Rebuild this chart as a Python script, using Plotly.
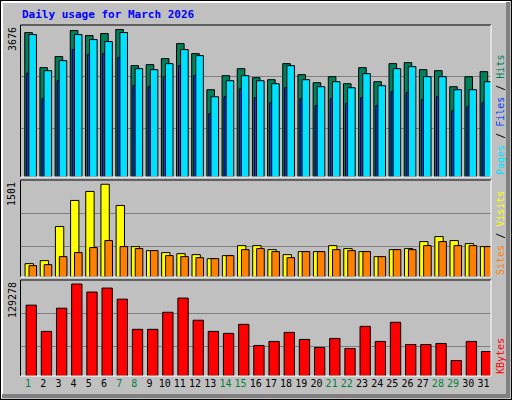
import plotly.graph_objects as go

days = list(range(1, 32))
weekend = [1, 7, 8, 14, 15, 21, 22, 28, 29]
hits = [3600,2725,3000,3650,3525,3575,3676,2775,2800,2950,3325,3075,2175,2525,2700,2475,2425,2825,2550,2350,2500,2325,2725,2375,2825,2850,2675,2650,2250,2500,2625]
files = [3550,2650,2900,3550,3425,3375,3600,2700,2675,2825,3175,3025,2000,2400,2525,2400,2325,2775,2425,2250,2375,2225,2575,2275,2700,2750,2500,2500,2175,2175,2375]
pages = [2590,1950,2400,3175,3050,3075,2975,2275,2250,2500,2775,2525,1575,2000,2200,1975,1850,2225,1950,1775,1950,1825,1975,1775,2125,2100,1925,2000,1650,1750,1850]
visits = [216,265,817,1239,1385,1501,1158,492,427,395,378,362,297,346,508,508,443,362,411,411,508,460,411,330,443,460,573,654,590,541,492]
sites = [184,200,330,395,476,590,492,460,427,346,330,313,297,346,443,460,411,313,411,411,443,427,411,330,443,443,508,573,508,508,492]
kbytes = [99600,62700,95300,129278,118000,123600,108000,65600,65600,89600,109500,78400,62700,59900,72600,42900,48600,61300,51400,40100,52800,38700,69800,48600,75500,44300,44300,45700,21700,48600,34400]

MONO = "DejaVu Sans Mono"
L, R = 20.5/512, 491/512
doms = [((400-177)/400, (400-25)/400), ((400-277)/400, (400-180)/400), ((400-376)/400, (400-280)/400)]
ranges = [3788, 1570, 134950]
grids = [[1212, 2500], [499, 1030], [41489, 88217]]

fig = go.Figure()
line = dict(color="black", width=1)
def bar(vals, color, off, w, k):
    fig.add_trace(go.Bar(x=days, y=vals, offset=off, width=w, marker=dict(color=color, line=line),
                         xaxis="x" if k == 1 else f"x{k}", yaxis="y" if k == 1 else f"y{k}", showlegend=False))
bar(hits, "#00805C", -0.22, 0.5, 1)
bar(pages, "#0040FF", -0.09, 0.18, 1)
bar(files, "#00E0FF", 0.05, 0.5, 1)
bar(visits, "#FFFF00", -0.2, 0.55, 2)
bar(sites, "#FF8000", 0.06, 0.5, 2)
bar(kbytes, "#FF0000", -0.13, 0.68, 3)

lay = dict(width=512, height=400, margin=dict(l=0, r=0, t=0, b=0), paper_bgcolor="#C0C0C0",
           plot_bgcolor="#C0C0C0", barmode="overlay", font=dict(family=MONO, size=10, color="black"))
for k in (1, 2, 3):
    xs = "xaxis" if k == 1 else f"xaxis{k}"
    ys = "yaxis" if k == 1 else f"yaxis{k}"
    lay[xs] = dict(domain=[L, R], range=[0.5, 31.5], showgrid=False, zeroline=False,
                   anchor="y" if k == 1 else f"y{k}", showticklabels=(k == 3), ticks="")
    lay[ys] = dict(domain=list(doms[k-1]), range=[0, ranges[k-1]], tickvals=grids[k-1], showticklabels=False,
                   gridcolor="#808080", gridwidth=1, zeroline=False, anchor="x" if k == 1 else f"x{k}")
lay["xaxis3"]["tickvals"] = days
lay["xaxis3"]["ticktext"] = [f"<span style='color:#008040'>{d}</span>" if d in weekend else str(d) for d in days]
lay["xaxis3"]["tickfont"] = dict(family=MONO, size=10)
fig.update_layout(**lay)

shapes = []
def pl(x0, y0, x1, y1, c, w=1):
    shapes.append(dict(type="line", xref="paper", yref="paper", x0=x0, y0=y0, x1=x1, y1=y1, line=dict(color=c, width=w)))
for lo, hi in doms:
    pl(L, hi, R, hi, "black"); pl(L, lo, L, hi, "black")
    pl(R, lo, R, hi, "white"); pl(L, lo, R, lo, "white")
pl(2/512, 1-2/400, 510/512, 1-2/400, "white", 2); pl(2/512, 2/400, 2/512, 1-2/400, "white", 2)
pl(508/512, 2/400, 508/512, 1-2/400, "#808080", 4); pl(2/512, 4/400, 510/512, 4/400, "#808080", 4)
shapes.append(dict(type="rect", xref="paper", yref="paper", x0=0, y0=0, x1=1, y1=1, line=dict(color="black", width=2)))
fig.update_layout(shapes=shapes)

ann = [dict(text="<b>Daily usage for March 2026</b>", x=20/512, y=1-14/400, xanchor="left", yanchor="middle",
            font=dict(color="#0000FF", size=11, family=MONO))]
for (lo, hi), lbl in zip(doms, ["3676", "1501", "129278"]):
    ann.append(dict(text=lbl, textangle=-90, x=12/512, y=hi, xanchor="center", yanchor="top", font=dict(size=10, family=MONO)))
rl = ["<span style='color:#00E0FF'>Pages</span> / <span style='color:#0040FF'>Files</span> / <span style='color:#00805C'>Hits</span>",
      "<span style='color:#FF8000'>Sites</span> / <span style='color:#FFFF00'>Visits</span>",
      "<span style='color:#FF0000'>KBytes</span>"]
for (lo, hi), t in zip(doms, rl):
    ann.append(dict(text=t, textangle=-90, x=500/512, y=lo, xanchor="center", yanchor="bottom", font=dict(size=10, family=MONO)))
for a in ann:
    a.update(xref="paper", yref="paper", showarrow=False)
fig.update_layout(annotations=ann)
fig.write_html("out.html", config={"displayModeBar": False},
               post_script="document.body.style.margin='0';document.body.style.padding='0';document.body.style.overflow='hidden';")
